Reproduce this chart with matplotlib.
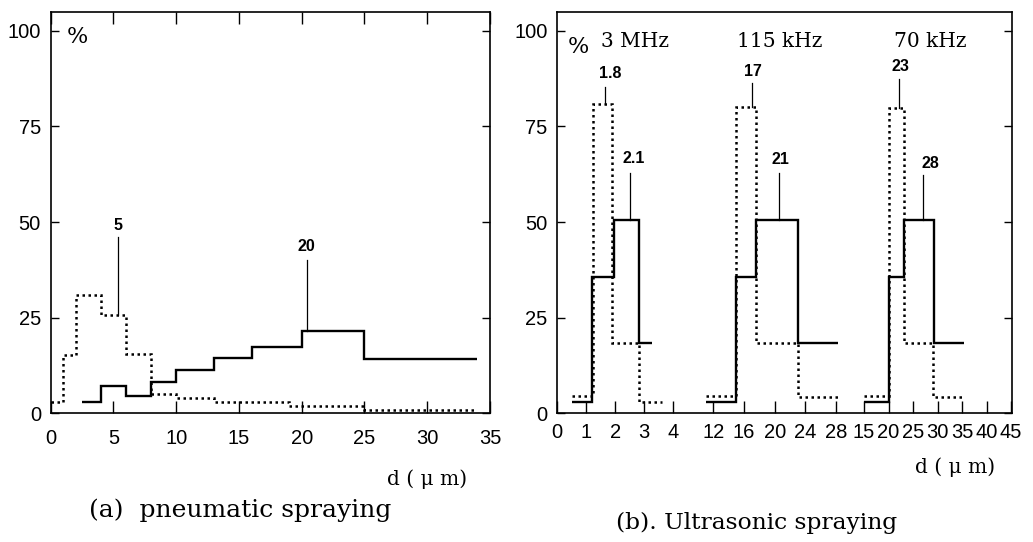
import numpy as np
import matplotlib
matplotlib.use('Agg')
import matplotlib.pyplot as plt

# (a) pneumatic spraying: bin edges (um) and percent of droplets
pn_dot_edges = [0, 1, 2, 4, 6, 8, 10, 13, 19, 25, 34]
pn_dot = [3.0, 15.2, 30.9, 25.7, 15.5, 5.0, 4.1, 3.0, 2.0, 0.9]
pn_sol_edges = [2.5, 4, 6, 8, 10, 13, 16, 20, 25, 34]
pn_sol = [3.0, 7.1, 4.6, 8.1, 11.3, 14.4, 17.4, 21.5, 14.2]

# (b) ultrasonic spraying, one group per frequency
freqs = ['3 MHz', '115 kHz', '70 kHz']
us_sol_edges = [[0.5, 1.2, 1.95, 2.8, 3.25],
                [11, 15, 17.6, 23, 28.2],
                [15, 20, 23.1, 29.2, 35.5]]
us_sol = [[3.0, 35.7, 50.5, 18.3],
          [3.0, 35.7, 50.5, 18.3],
          [3.0, 35.7, 50.5, 18.3]]
us_dot_edges = [[0.5, 1.22, 1.9, 2.8, 3.6],
                [11, 15, 17.6, 23, 28.2],
                [15, 20, 23.1, 29, 35.5]]
us_dot = [[4.5, 80.9, 18.3, 3.0],
          [4.5, 80.2, 18.3, 4.2],
          [4.5, 79.7, 18.3, 4.3]]
us_ticks = [[0, 1, 2, 3, 4], [12, 16, 20, 24, 28], [15, 20, 25, 30, 35, 40, 45]]

# peak labels: (text, x, text y, line top, line bottom)
pn_peaks = [('5', 5.4, 49.2, 46.1, 25.7), ('20', 20.4, 43.6, 40.0, 21.5)]
us_peaks = [[('1.8', 1.64, 1.84, 88.9, 85.4, 80.9), ('2.1', 2.51, 2.62, 66.7, 62.9, 50.5)],
            [('17', 17.0, 17.2, 89.3, 86.3, 80.2), ('21', 20.6, 20.7, 66.4, 62.9, 50.5)],
            [('23', 22.2, 22.4, 90.6, 87.3, 79.7), ('28', 27.1, 28.5, 65.4, 62.3, 50.5)]]
freq_x = [2.68, 20.7, 28.5]

# broken x axis of panel (b): each group has its own linear scale
grp_d0 = [0, 12, 15]
grp_u0 = [0, 156, 306.7]
grp_k = [29, 7.67, 4.9]


def to_u(g, d):
    return grp_u0[g] + (np.asarray(d, dtype=float) - grp_d0[g]) * grp_k[g]


tick_font = dict(family=['Liberation Sans', 'DejaVu Sans'], size=14.5)
serif = ['DejaVu Serif']
sol_kw = dict(color='black', lw=1.7, baseline=None)
dot_kw = dict(color='black', lw=1.8, linestyle=(0, (1, 1.4)), baseline=None)
lead_kw = dict(color='black', lw=0.9)
peak_font = dict(family=['Liberation Sans', 'DejaVu Sans'], size=11.5,
                 weight='bold', ha='center', va='center')

fig = plt.figure(figsize=(10.33, 5.42), dpi=100)
ax1 = fig.add_axes([0.0491, 0.2375, 0.4252, 0.7409])
ax2 = fig.add_axes([0.5395, 0.2375, 0.4399, 0.7409])

for ax in (ax1, ax2):
    ax.set_ylim(0, 105)
    ax.set_yticks([0, 25, 50, 75, 100])
    for s in ax.spines.values():
        s.set_linewidth(1.2)
    ax.tick_params(axis='y', direction='in', length=5.5, width=1, right=True,
                   pad=7)
    for lab in ax.get_yticklabels():
        lab.set_fontfamily(tick_font['family'])
        lab.set_fontsize(tick_font['size'])

# ---- panel (a)
ax1.stairs(pn_dot, pn_dot_edges, **dot_kw)
ax1.stairs(pn_sol, pn_sol_edges, **sol_kw)
ax1.set_xlim(0, 35)
ax1.set_xticks(range(0, 36, 5))
ax1.tick_params(axis='x', direction='in', length=8.5, width=1, top=True,
                pad=11)
for lab in ax1.get_xticklabels():
    lab.set_fontfamily(tick_font['family'])
    lab.set_fontsize(tick_font['size'])
for txt, x, ty, y0, y1 in pn_peaks:
    ax1.plot([x, x], [y0, y1], **lead_kw)
    ax1.text(x, ty, txt, **peak_font)
ax1.text(2.15, 98.4, '%', family=serif, fontsize=16, ha='center', va='center')

# ---- panel (b)
ax2.set_xlim(0, 454.4)
tick_pos, tick_lab = [], []
for g in range(3):
    ax2.stairs(us_dot[g], to_u(g, us_dot_edges[g]), **dot_kw)
    ax2.stairs(us_sol[g], to_u(g, us_sol_edges[g]), **sol_kw)
    tick_pos += list(to_u(g, us_ticks[g]))
    tick_lab += [str(t) for t in us_ticks[g]]
    for txt, lx, tx, ty, y0, y1 in us_peaks[g]:
        ax2.plot([to_u(g, lx)] * 2, [y0, y1], **lead_kw)
        ax2.text(to_u(g, tx), ty, txt, **peak_font)
    ax2.text(to_u(g, freq_x[g]), 97.2, freqs[g], family=serif, fontsize=14.5,
             ha='center', va='center')
ax2.set_xticks(tick_pos)
ax2.set_xticklabels(tick_lab, **tick_font)
ax2.tick_params(axis='x', direction='in', length=8.5, width=1, pad=7)
ax2.text(21, 95.8, '%', family=serif, fontsize=16, ha='center', va='center')

# axis titles and captions
fig.text(427 / 1033, 1 - 479 / 542, 'd ( μ m)', family=serif, fontsize=14.5,
         ha='center', va='center')
fig.text(955 / 1033, 1 - 467 / 542, 'd ( μ m)', family=serif, fontsize=14.5,
         ha='center', va='center')
fig.text(240 / 1033, 1 - 510 / 542, '(a)  pneumatic spraying', family=serif,
         fontsize=18, ha='center', va='center')
fig.text(757 / 1033, 1 - 523 / 542, '(b). Ultrasonic spraying', family=serif,
         fontsize=16.8, ha='center', va='center')

fig.savefig('out.png', dpi=100)
